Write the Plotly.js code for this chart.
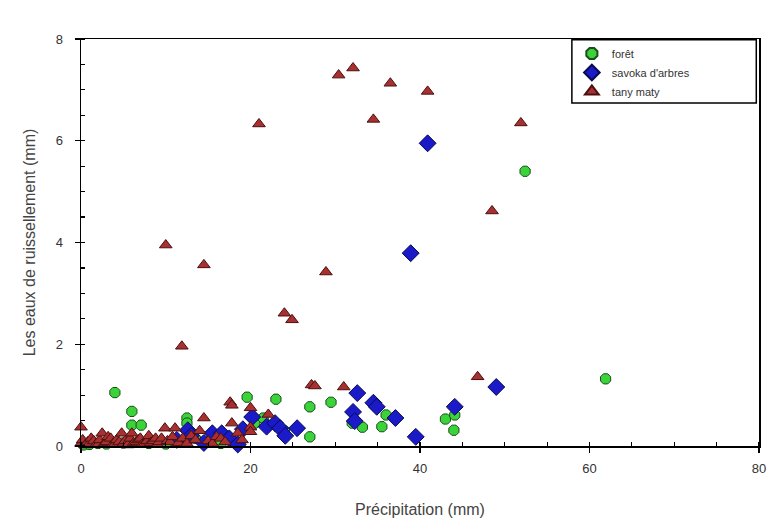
<!DOCTYPE html>
<html>
<head>
<meta charset="utf-8">
<script src="https://cdn.plot.ly/plotly-3.0.1.min.js"></script>
<style>html,body{margin:0;padding:0;background:#fff;}#chart{width:769px;height:526px;}</style>
</head>
<body>
<div id="chart"></div>
<script>
// forêt
const foretX = [0.3, 1, 2, 3, 4, 5, 6, 6, 7.1, 8, 9, 10, 11, 12.5, 12.5, 13.5, 15.3, 16.5, 19.6, 20.5, 21.5, 23, 24, 27, 27, 29.5, 32, 33.2, 35.5, 36, 43, 44.1, 44, 52.4, 61.9];
const foretY = [0.02, 0.03, 0.05, 0.04, 1.05, 0.06, 0.68, 0.41, 0.41, 0.05, 0.08, 0.04, 0.1, 0.55, 0.45, 0.15, 0.12, 0.05, 0.96, 0.45, 0.55, 0.92, 0.3, 0.77, 0.18, 0.86, 0.45, 0.37, 0.38, 0.61, 0.53, 0.61, 0.31, 5.4, 1.32];
// savoka d'arbres
const savokaX = [11.3, 12.6, 13, 14.5, 15.5, 16.6, 17.5, 18.5, 19.1, 20.2, 21.9, 22.9, 23.5, 24.1, 25.5, 32.1, 32.3, 32.6, 34.5, 34.9, 37.1, 38.9, 39.5, 40.9, 44.1, 49];
const savokaY = [0.12, 0.31, 0.2, 0.06, 0.25, 0.25, 0.15, 0.03, 0.33, 0.57, 0.38, 0.45, 0.35, 0.2, 0.35, 0.67, 0.49, 1.04, 0.85, 0.77, 0.55, 3.79, 0.18, 5.95, 0.77, 1.16];
// tany maty
const tanyX = [0, 0, 0.2, 0.5, 0.8, 1, 1.2, 1.5, 1.8, 2, 2.2, 2.5, 2.8, 3, 3.2, 3.5, 3.8, 4, 4.2, 4.5, 4.8, 5, 5.2, 5.5, 5.8, 6, 6.2, 6.5, 6.8, 7, 7.2, 7.5, 7.8, 8, 8.2, 8.5, 8.8, 9, 9.2, 9.5, 9.9, 10, 10.2, 10.5, 10.8, 11.1, 11.5, 11.9, 12, 12.5, 13, 13.5, 14, 14.5, 14.5, 15, 15.5, 16, 16.5, 17, 17.6, 17.8, 17.8, 18.5, 19, 20, 20, 20, 21, 22.1, 24, 24.9, 27.2, 27.6, 28.9, 30.4, 31, 32.1, 34.5, 36.5, 40.9, 46.8, 48.5, 51.9];
const tanyY = [0.37, 0.05, 0.12, 0.02, 0.08, 0.05, 0.15, 0.1, 0.04, 0.03, 0.12, 0.25, 0.06, 0.08, 0.18, 0.15, 0.05, 0.04, 0.12, 0.08, 0.25, 0.05, 0.1, 0.02, 0.15, 0.25, 0.06, 0.08, 0.12, 0.15, 0.03, 0.05, 0.1, 0.2, 0.06, 0.1, 0.15, 0.03, 0.08, 0.15, 0.35, 3.95, 0.1, 0.08, 0.18, 0.35, 0.06, 1.96, 0.15, 0.05, 0.2, 0.12, 0.3, 0.55, 3.56, 0.1, 0.05, 0.18, 0.15, 0.08, 0.86, 0.8, 0.45, 0.25, 0.12, 0.75, 0.37, 0.28, 6.33, 0.62, 2.61, 2.48, 1.2, 1.18, 3.42, 7.29, 1.16, 7.43, 6.42, 7.13, 6.97, 1.36, 4.62, 6.35];

const xTicks = [0, 20, 40, 60, 80];
const yTicks = [0, 2, 4, 6, 8];

const traces = [
  {x: foretX, y: foretY, name: 'forêt', type: 'scatter', mode: 'markers', cliponaxis: false,
   marker: {symbol: 'octagon', size: 11, color: '#3ad43a', line: {color: '#1d4d1d', width: 1}}},
  {x: savokaX, y: savokaY, name: "savoka d'arbres", type: 'scatter', mode: 'markers', cliponaxis: false,
   marker: {symbol: 'diamond', size: 13, color: '#1a1ac8', line: {color: '#0a0a50', width: 1}}},
  {x: tanyX, y: tanyY, name: 'tany maty', type: 'scatter', mode: 'markers', cliponaxis: false,
   marker: {symbol: 'triangle-up', size: 11, color: '#a83030', line: {color: '#4a1010', width: 1}}}
];

const axisCommon = {
  showgrid: false, zeroline: false, showline: true, linecolor: '#000', linewidth: 1.5,
  mirror: true, ticks: 'outside', ticklen: 5, tickcolor: '#000', tickwidth: 1.2,
  tickfont: {family: 'Liberation Sans, Arial, sans-serif', size: 13, color: '#333'}
};

const layout = {
  width: 769, height: 526,
  margin: {l: 81, r: 10, t: 39, b: 80},
  paper_bgcolor: '#fff', plot_bgcolor: '#fff',
  showlegend: true,
  xaxis: Object.assign({}, axisCommon, {
    range: [0, 80], tickmode: 'array', tickvals: xTicks, ticktext: xTicks.map(String),
    ticklabelstandoff: 5,
    minor: {dtick: 5, ticks: 'inside', ticklen: 4, tickcolor: '#000', tickwidth: 1.2},
    title: {text: 'Précipitation (mm)', standoff: 28,
            font: {family: 'Liberation Sans, Arial, sans-serif', size: 16, color: '#444'}}
  }),
  yaxis: Object.assign({}, axisCommon, {
    range: [0, 8], tickmode: 'array', tickvals: yTicks, ticktext: yTicks.map(String),
    ticklabelstandoff: 9,
    minor: {dtick: 0.5, ticks: 'inside', ticklen: 4, tickcolor: '#000', tickwidth: 1.2},
    title: {text: 'Les eaux de ruissellement (mm)', standoff: 16,
            font: {family: 'Liberation Sans, Arial, sans-serif', size: 16, color: '#444'}}
  }),
  legend: {
    x: 0.724, y: 1.0, xanchor: 'left', yanchor: 'top',
    bgcolor: 'rgba(0,0,0,0)', borderwidth: 0,
    font: {family: 'Liberation Sans, Arial, sans-serif', size: 11, color: '#333'},
    itemsizing: 'constant'
  },
  shapes: [{
    type: 'rect', xref: 'paper', yref: 'paper', layer: 'above',
    x0: 0.724, x1: 0.996, y0: 0.843, y1: 0.998,
    line: {color: '#000', width: 1.5}, fillcolor: '#fff'
  }]
};

Plotly.newPlot('chart', traces, layout, {displayModeBar: false, staticPlot: true});
</script>
</body>
</html>
